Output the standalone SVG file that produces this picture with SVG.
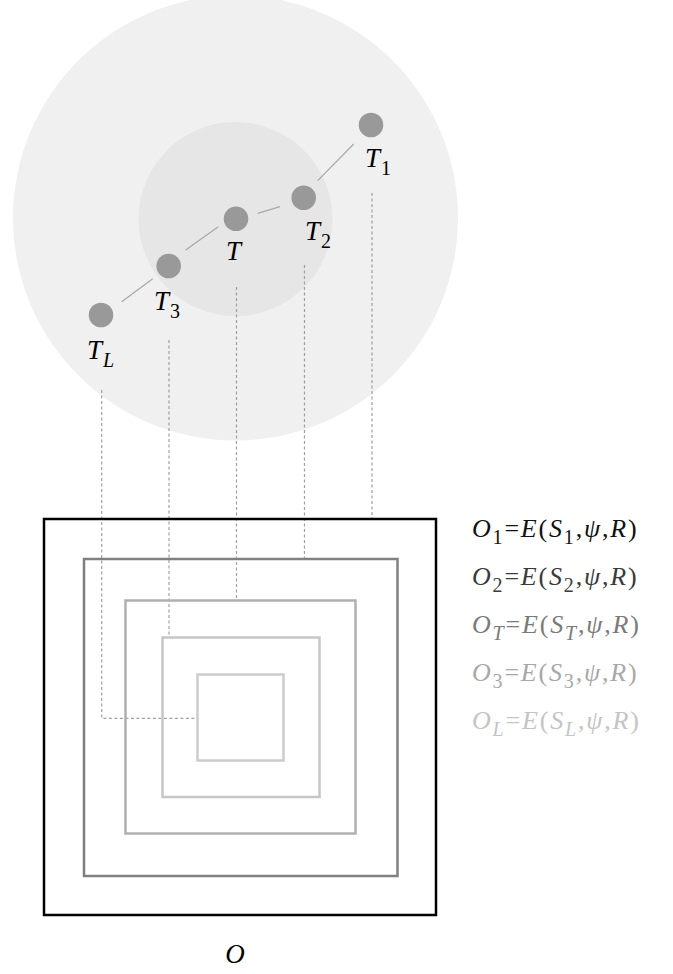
<svg xmlns="http://www.w3.org/2000/svg" width="673" height="974" viewBox="0 0 673 974">
<style>
.m{font-family:"Liberation Serif","DejaVu Serif",serif;font-style:italic;font-size:27px}
.e{font-size:26px;letter-spacing:1.8px}
.u{font-style:normal}
.s{font-size:20px}
.node{fill:#999999}
.link{stroke:#a8a8a8;stroke-width:1.2;fill:none}
.dash{stroke:#a0a0a0;stroke-width:1.2;stroke-dasharray:3 2.5;fill:none}
.sq{fill:none;stroke-width:2.5}
</style>
<rect width="673" height="974" fill="#ffffff"/>
<g id="regions">
<circle cx="235.5" cy="218" r="222.5" fill="#f0f0f0"/>
<circle cx="235.5" cy="219" r="97" fill="#e6e6e6"/>
</g>
<g id="connectors">
<line class="link" x1="353.7" y1="144" x2="317.7" y2="180.7"/>
<line class="link" x1="280" y1="206.7" x2="257.7" y2="213.3"/>
<line class="link" x1="218.3" y1="226.7" x2="185.7" y2="250"/>
<line class="link" x1="152.7" y1="278.7" x2="121.7" y2="301.7"/>
<line class="dash" x1="372" y1="193" x2="372" y2="518"/>
<line class="dash" x1="304.5" y1="265" x2="304.5" y2="558"/>
<line class="dash" x1="236.5" y1="287" x2="236.5" y2="600"/>
<line class="dash" x1="169" y1="340" x2="169" y2="637"/>
<polyline class="dash" points="101.7,390 101.7,718.3 197,718.3"/>
</g>
<g id="T1"><circle class="node" cx="371" cy="125" r="12.3"/><text class="m" x="365" y="167">T<tspan class="u s" dx="1" dy="8">1</tspan></text></g>
<g id="T2"><circle class="node" cx="303.7" cy="197.7" r="12.3"/><text class="m" x="305" y="240">T<tspan class="u s" dx="1" dy="8">2</tspan></text></g>
<g id="T"><circle class="node" cx="236" cy="218.7" r="12.3"/><text class="m" x="226" y="260">T</text></g>
<g id="T3"><circle class="node" cx="168.7" cy="266" r="12.3"/><text class="m" x="154" y="310">T<tspan class="u s" dx="1" dy="8">3</tspan></text></g>
<g id="TL"><circle class="node" cx="101" cy="315" r="12.3"/><text class="m" x="87" y="359">T<tspan class="s" dx="1" dy="8">L</tspan></text></g>
<g id="O">
<rect class="sq" x="44" y="519" width="392" height="396" stroke="#000000"/>
<rect class="sq" x="84" y="559" width="313.5" height="317" stroke="#808080"/>
<rect class="sq" x="125.5" y="600.5" width="230" height="233" stroke="#b0b0b0"/>
<rect class="sq" x="162.5" y="637.5" width="157" height="159.5" stroke="#c6c6c6"/>
<rect class="sq" x="197.5" y="674.5" width="86" height="86" stroke="#cccccc"/>
<text class="m" x="235" y="963" text-anchor="middle">O</text>
</g>
<g id="equations">
<text class="m e" x="472" y="537" fill="#111111">O<tspan class="u s" dy="7">1</tspan><tspan class="u" dy="-7">=</tspan>E<tspan class="u">(</tspan>S<tspan class="u s" dy="7">1</tspan><tspan class="u" dy="-7">,</tspan>ψ<tspan class="u">,</tspan>R<tspan class="u">)</tspan></text>
<text class="m e" x="472" y="585" fill="#3a3a3a">O<tspan class="u s" dy="7">2</tspan><tspan class="u" dy="-7">=</tspan>E<tspan class="u">(</tspan>S<tspan class="u s" dy="7">2</tspan><tspan class="u" dy="-7">,</tspan>ψ<tspan class="u">,</tspan>R<tspan class="u">)</tspan></text>
<text class="m e" x="472" y="633" fill="#7a7a7a">O<tspan class="s" dy="7">T</tspan><tspan class="u" dy="-7">=</tspan>E<tspan class="u">(</tspan>S<tspan class="s" dy="7">T</tspan><tspan class="u" dy="-7">,</tspan>ψ<tspan class="u">,</tspan>R<tspan class="u">)</tspan></text>
<text class="m e" x="472" y="681" fill="#a8a8a8">O<tspan class="u s" dy="7">3</tspan><tspan class="u" dy="-7">=</tspan>E<tspan class="u">(</tspan>S<tspan class="u s" dy="7">3</tspan><tspan class="u" dy="-7">,</tspan>ψ<tspan class="u">,</tspan>R<tspan class="u">)</tspan></text>
<text class="m e" x="472" y="729" fill="#c4c4c4">O<tspan class="s" dy="7">L</tspan><tspan class="u" dy="-7">=</tspan>E<tspan class="u">(</tspan>S<tspan class="s" dy="7">L</tspan><tspan class="u" dy="-7">,</tspan>ψ<tspan class="u">,</tspan>R<tspan class="u">)</tspan></text>
</g>
</svg>
